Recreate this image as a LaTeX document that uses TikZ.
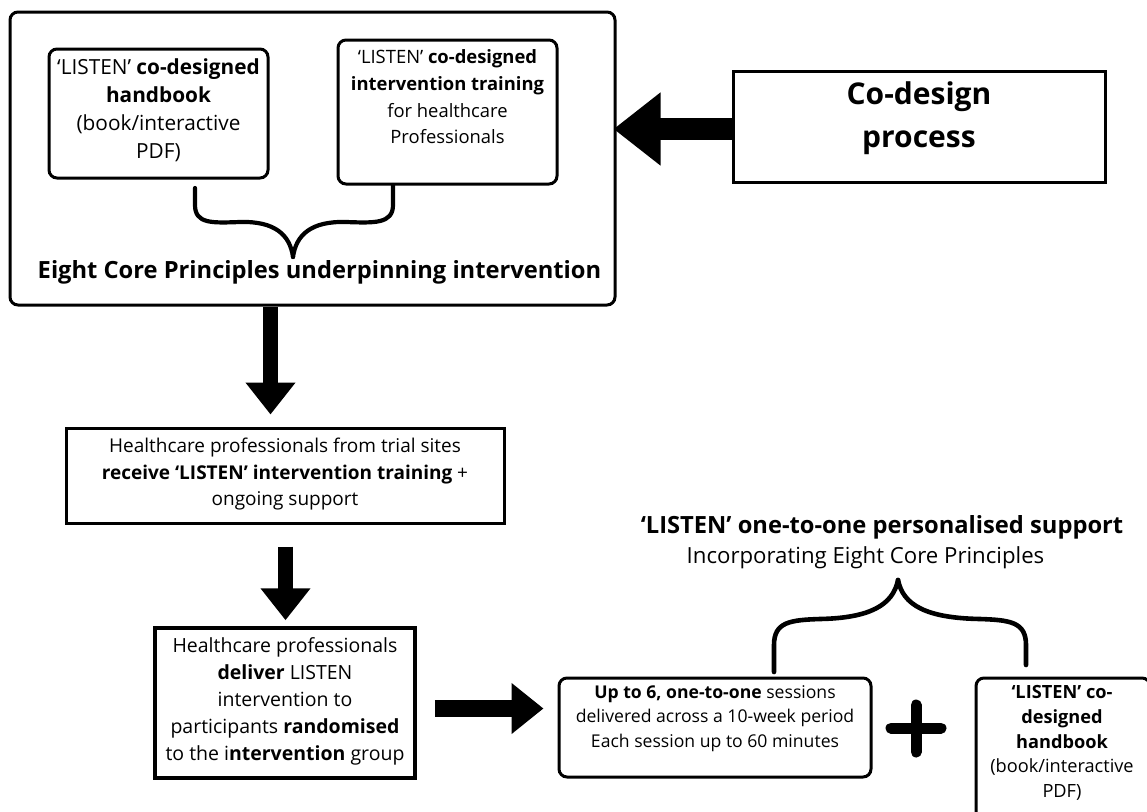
\documentclass[tikz,border=0pt]{standalone}
\usepackage{fontspec}
\setmainfont{Open Sans}
\usetikzlibrary{arrows.meta}
\newcommand\fsz[2]{\fontsize{#1pt}{#2pt}\selectfont}
\begin{document}
\begin{tikzpicture}[x=1pt,y=-1pt,
  rbox/.style={draw, line width=3pt, rounded corners=8pt, inner sep=0pt},
  sbox/.style={draw, line width=3pt, inner sep=0pt},
  txt/.style={align=center, inner sep=0pt},
  bracestyle/.style={line width=4.2pt, line cap=round, line join=round},
  downarrow/.style={line width=15pt, -{Triangle[width=48pt,length=32pt]}},
  rightarrow/.style={line width=17pt, -{Triangle[width=49pt,length=32pt]}},
  leftarrow/.style={line width=22pt, -{Triangle[width=70pt,length=47pt]}}
]
\useasboundingbox (0,0) rectangle (1147,811);
\clip (0,0) rectangle (1147,811);
\fill[white] (0,0) rectangle (1147,811);

% top block
\node[rbox, minimum width=605pt, minimum height=293pt] (outer) at (312.5,158.5) {};
\node[rbox, minimum width=219pt, minimum height=129pt] (hb) at (158.5,113.5) {};
\node[rbox, minimum width=219pt, minimum height=144pt] (tr) at (447.5,112) {};
\node[txt, font=\fsz{20.8}{28}] (hbt) at (158.5,110.5) {‘LISTEN’ \textbf{co-designed}\\\textbf{handbook}\\(book/interactive\\PDF)};
\node[txt, font=\fsz{18.4}{26.7}] (trt) at (447.5,97) {‘LISTEN’ \textbf{co-designed}\\\textbf{intervention training}\\for healthcare\\Professionals};
\node[inner sep=0pt, font=\fsz{23.7}{28}\bfseries] (ecp) at (319.5,272) {Eight Core Principles underpinning intervention};

% brace in top block
\coordinate (bl) at (195,188);
\coordinate (br) at (393,185);
\coordinate (bt) at (293,257);
\draw[bracestyle] (bl) -- (195,205) .. controls (195,224) and (212,223) .. (240,222) .. controls (275,221) and (290,235) .. (bt);
\draw[bracestyle] (br) -- (393,205) .. controls (393,224) and (374,223) .. (346,222) .. controls (311,221) and (296,235) .. (bt);

% co-design
\node[sbox, minimum width=372pt, minimum height=111pt] (cod) at (919,126.5) {};
\node[txt, font=\fsz{30}{43}\bfseries] (codt) at (919,118.5) {Co-design\\process};
\coordinate (a4) at (0,129);
\draw[leftarrow, shorten >=-3pt] (cod.west |- a4) -- (outer.east |- a4);

% second box
\node[sbox, minimum width=438pt, minimum height=95pt] (box2) at (285,475.5) {};
\node[txt, font=\fsz{19}{26.5}] (b2t) at (285,474.5) {Healthcare professionals from trial sites\\\textbf{receive ‘LISTEN’ intervention training} +\\ongoing support};
\coordinate (a1) at (270.5,0);
\draw[downarrow, shorten >=12pt] (outer.south -| a1) -- (box2.north -| a1);

% third box
\node[sbox, line width=3.5pt, minimum width=260pt, minimum height=150pt] (box3) at (285,703) {};
\node[txt, font=\fsz{19.5}{27}] (b3t) at (285,701) {Healthcare professionals\\\textbf{deliver} LISTEN\\intervention to\\participants \textbf{randomised}\\to the i\textbf{ntervention} group};
\coordinate (a2) at (285.5,0);
\draw[downarrow, shorten <=22pt, shorten >=6pt] (box2.south -| a2) -- (box3.north -| a2);

% right bottom
\node[inner sep=0pt, font=\fsz{23.7}{28}\bfseries] (ttl) at (882,527) {‘LISTEN’ one-to-one personalised support};
\node[inner sep=0pt, font=\fsz{22.2}{26}] (sub) at (865.5,558) {Incorporating Eight Core Principles};

\node[rbox, minimum width=312pt, minimum height=99pt] (box4) at (715,727.5) {};
\node[txt, font=\fsz{17.6}{24.5}] (b4t) at (715,718.5) {\textbf{Up to 6, one-to-one} sessions\\delivered across a 10-week period\\Each session up to 60 minutes};
\coordinate (a3) at (0,708.5);
\draw[rightarrow, shorten <=18pt, shorten >=14pt] (box3.east |- a3) -- (box4.west |- a3);

\node[rbox, minimum width=174pt, minimum height=152pt] (box5) at (1063,754) {};
\node[txt, font=\fsz{18.2}{24.75}] (b5t) at (1062,743) {\textbf{‘LISTEN’ co-}\\\textbf{designed}\\\textbf{handbook}\\(book/interactive\\PDF)};

% plus sign
\draw[line width=11pt, line cap=round] (891,728) -- (941,728) (916,705) -- (916,752);

% brace bottom right
\coordinate (cl) at (774,672);
\coordinate (cr) at (1026,665);
\coordinate (ct) at (898,580);
\draw[bracestyle, line width=4.6pt] (cl) -- (774,645) .. controls (774,622) and (790,620) .. (820,619) .. controls (870,618) and (893,605) .. (ct);
\draw[bracestyle, line width=4.6pt] (cr) -- (1026,645) .. controls (1026,622) and (1010,620) .. (980,619) .. controls (926,618) and (903,605) .. (ct);
\end{tikzpicture}
\end{document}
